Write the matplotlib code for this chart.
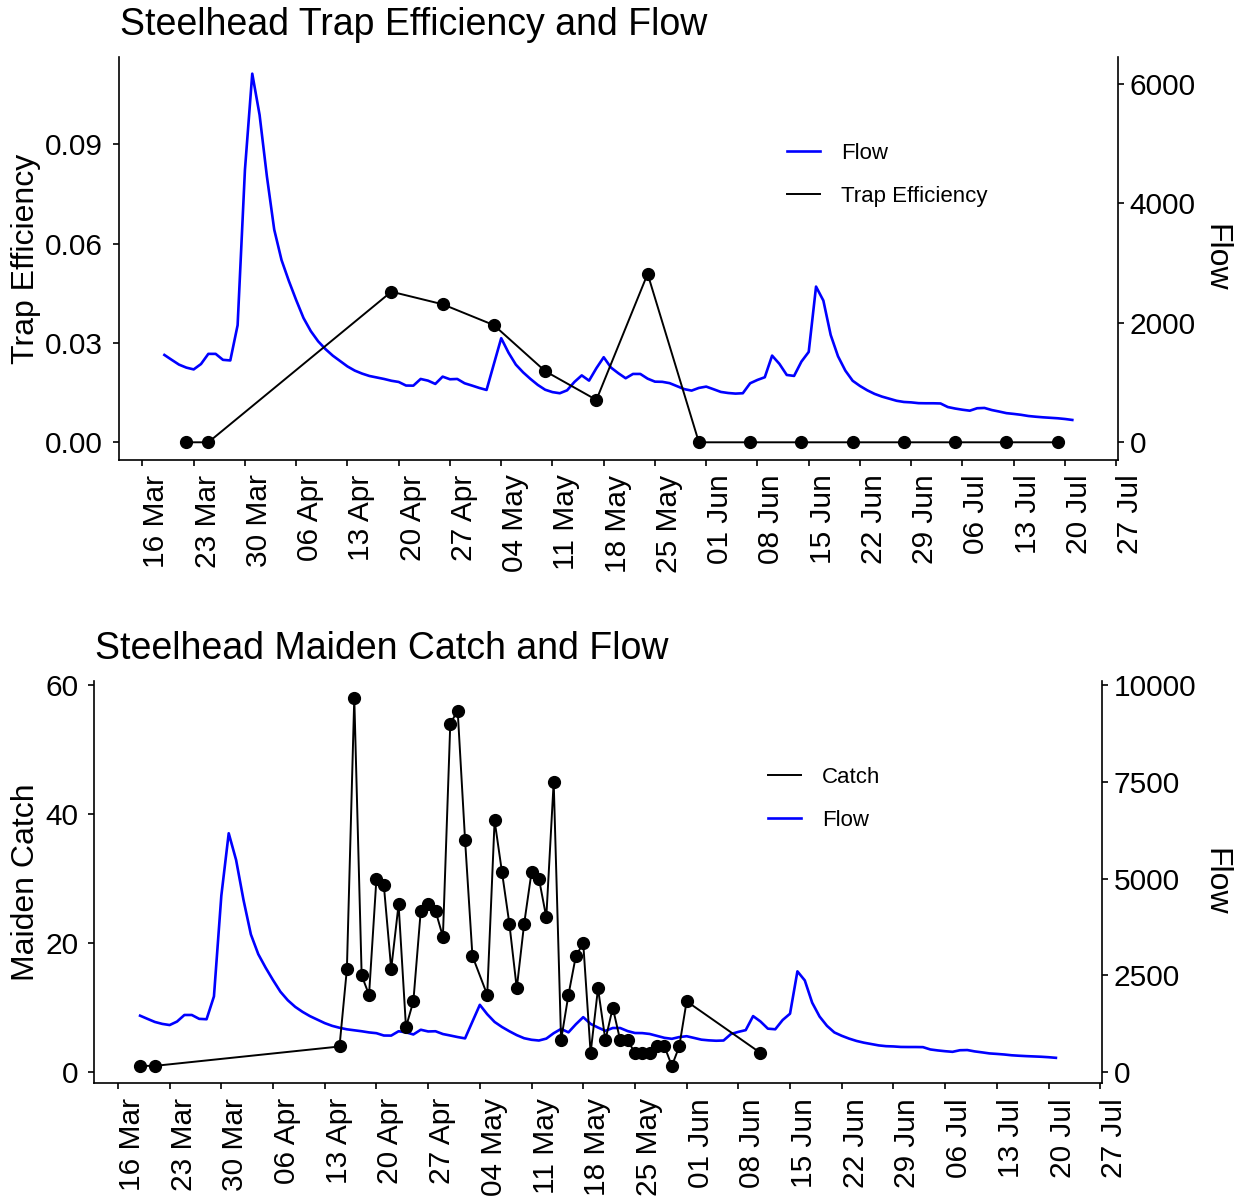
"""Steelhead trap efficiency, maiden catch and river flow in two stacked panels.

Each panel puts the fish series on the left axis and daily flow on a
secondary right axis sharing the same zero.
"""

import matplotlib

matplotlib.use("Agg")
import matplotlib.dates as mdates
import matplotlib.pyplot as plt
import pandas as pd
from matplotlib.lines import Line2D
from matplotlib.ticker import FixedLocator, FormatStrFormatter

plt.rcParams["font.family"] = ["Liberation Sans", "DejaVu Sans"]

# ---------- data ----------

# daily mean flow, 19 Mar - 21 Jul
FLOW_START = "2021-03-19"
FLOW = [
    1462, 1380, 1300, 1250, 1220, 1310, 1480, 1480, 1380, 1370,
    1960, 4560, 6170, 5480, 4450, 3560, 3050, 2700, 2380, 2080,
    1860, 1690, 1560, 1450, 1360, 1270, 1200, 1150, 1110, 1085,
    1060, 1030, 1010, 950, 948, 1060, 1032, 977, 1099, 1055,
    1060, 988, 950, 910, 876, 1310, 1742, 1500, 1300, 1170,
    1060, 960, 880, 840, 821, 870, 1010, 1120, 1032, 1240,
    1424, 1250, 1156, 1072, 1144, 1144, 1065, 1015, 1012, 990,
    940, 890, 865, 910, 932, 888, 843, 825, 815, 821,
    988, 1044, 1089, 1451, 1312, 1127, 1111, 1350, 1513, 2606,
    2372, 1797, 1440, 1200, 1030, 943, 870, 810, 765, 730,
    695, 675, 668, 655, 653, 653, 650, 590, 565, 545,
    529, 570, 575, 540, 515, 488, 475, 460, 440, 428,
    418, 410, 402, 390, 374,
]

TE_DATES = [
    "2021-03-22", "2021-03-25", "2021-04-19", "2021-04-26", "2021-05-03",
    "2021-05-10", "2021-05-17", "2021-05-24", "2021-05-31", "2021-06-07",
    "2021-06-14", "2021-06-21", "2021-06-28", "2021-07-05", "2021-07-12",
    "2021-07-19",
]
TE_VALUES = [
    0.0, 0.0, 0.0455, 0.0417, 0.0354, 0.0215, 0.0128, 0.0509,
    0.0, 0.0, 0.0, 0.0, 0.0, 0.0, 0.0, 0.0,
]

CATCH_DATES = [
    "2021-03-19", "2021-03-21", "2021-04-15", "2021-04-16", "2021-04-17",
    "2021-04-18", "2021-04-19", "2021-04-20", "2021-04-21", "2021-04-22",
    "2021-04-23", "2021-04-24", "2021-04-25", "2021-04-26", "2021-04-27",
    "2021-04-28", "2021-04-29", "2021-04-30", "2021-05-01", "2021-05-02",
    "2021-05-03", "2021-05-05", "2021-05-06", "2021-05-07", "2021-05-08",
    "2021-05-09", "2021-05-10", "2021-05-11", "2021-05-12", "2021-05-13",
    "2021-05-14", "2021-05-15", "2021-05-16", "2021-05-17", "2021-05-18",
    "2021-05-19", "2021-05-20", "2021-05-21", "2021-05-22", "2021-05-23",
    "2021-05-24", "2021-05-25", "2021-05-26", "2021-05-27", "2021-05-28",
    "2021-05-29", "2021-05-30", "2021-05-31", "2021-06-01", "2021-06-11",
]
CATCH_VALUES = [
    1, 1, 4, 16, 58, 15, 12, 30, 29, 16,
    26, 7, 11, 25, 26, 25, 21, 54, 56, 36,
    18, 12, 39, 31, 23, 13, 23, 31, 30, 24,
    45, 5, 12, 18, 20, 3, 13, 5, 10, 5,
    5, 3, 3, 3, 4, 4, 1, 4, 11, 3,
]

WEEK_TICKS = pd.date_range("2021-03-16", "2021-07-27", freq="7D")
TE_TICKS = [0.0, 0.03, 0.06, 0.09]
FLOW_TICKS_TOP = [0, 2000, 4000, 6000]
CATCH_TICKS = [0, 20, 40, 60]
FLOW_TICKS_BOTTOM = [0, 2500, 5000, 7500, 10000]

# ---------- styling ----------

_W, _H, _DPI = 1239, 1196, 100
_BLUE = "#0000FF"
_TICK_SIZE = 21.5
_LABEL_SIZE = 23
_TITLE_SIZE = 27
_LEGEND_SIZE = 16
_FLOW_LW = 1.9
_FISH_LW = 1.4
_X0 = pd.Timestamp("2021-03-16") - pd.Timedelta(days=3.2)
_X1 = pd.Timestamp("2021-03-16") + pd.Timedelta(days=133.2)


def _fx(px: float) -> float:
    return px / _W


def _fy(py: float) -> float:
    return 1 - py / _H


def _style_axes(ax, ax2) -> None:
    ax.spines["top"].set_visible(False)
    ax.spines["right"].set_visible(False)
    for spine in ("top", "left", "bottom"):
        ax2.spines[spine].set_visible(False)
    for a in (ax, ax2):
        for s in a.spines.values():
            s.set_linewidth(1.2)
        a.tick_params(direction="out", length=4.5, width=1.2, labelsize=_TICK_SIZE, colors="black")
    ax.tick_params(axis="y", pad=7)
    ax2.tick_params(axis="y", pad=4)
    ax.set_xlim(_X0, _X1)
    ax.xaxis.set_major_locator(FixedLocator(mdates.date2num(WEEK_TICKS)))
    ax.xaxis.set_major_formatter(mdates.DateFormatter("%d %b"))
    ax.tick_params(axis="x", pad=6)
    for lab in ax.get_xticklabels():
        lab.set_rotation(90)
        lab.set_ha("left")
        lab.set_va("top")
    # keep the fish series above the flow line
    ax.set_zorder(ax2.get_zorder() + 1)
    ax.patch.set_visible(False)


def _legend(fig, handles, labels, x_px, y_px) -> None:
    fig.legend(handles, labels, loc="upper left", bbox_to_anchor=(_fx(x_px), _fy(y_px)),
               frameon=False, fontsize=_LEGEND_SIZE, handlelength=1.5, handletextpad=0.95,
               labelspacing=1.0, borderpad=0, borderaxespad=0)


def main() -> None:
    fig = plt.figure(figsize=(_W / _DPI, _H / _DPI), dpi=_DPI)
    flow_dates = pd.date_range(FLOW_START, periods=len(FLOW), freq="D")

    # top panel: trap efficiency vs flow
    ax = fig.add_axes([_fx(119), _fy(460), _fx(1117.7) - _fx(119), _fy(56.7) - _fy(460)])
    ax2 = ax.twinx()
    ax2.plot(flow_dates, FLOW, color=_BLUE, linewidth=_FLOW_LW)
    ax.plot(pd.to_datetime(TE_DATES), TE_VALUES, color="black", linewidth=_FISH_LW,
            marker="o", markersize=8.5)
    ax.set_ylim(-0.00535, 0.1165)
    ax2.set_ylim(-0.00535 * 55400, 0.1165 * 55400)
    ax.set_yticks(TE_TICKS)
    ax.yaxis.set_major_formatter(FormatStrFormatter("%.2f"))
    ax2.set_yticks(FLOW_TICKS_TOP)
    _style_axes(ax, ax2)
    fig.text(_fx(120), _fy(35), "Steelhead Trap Efficiency and Flow", fontsize=_TITLE_SIZE,
             ha="left", va="baseline")
    fig.text(_fx(26), _fy(259), "Trap Efficiency", fontsize=_LABEL_SIZE, rotation=90,
             ha="center", va="center")
    fig.text(_fx(1215), _fy(258), "Flow", fontsize=_LABEL_SIZE, rotation=270,
             ha="center", va="center")
    _legend(fig,
            [Line2D([], [], color=_BLUE, linewidth=_FLOW_LW),
             Line2D([], [], color="black", linewidth=_FISH_LW)],
            ["Flow", "Trap Efficiency"], 786.7, 143)

    # bottom panel: maiden catch vs flow
    bx = fig.add_axes([_fx(94.3), _fy(1083.3), _fx(1101.7) - _fx(94.3), _fy(681) - _fy(1083.3)])
    bx2 = bx.twinx()
    bx2.plot(flow_dates, FLOW, color=_BLUE, linewidth=_FLOW_LW)
    bx.plot(pd.to_datetime(CATCH_DATES), CATCH_VALUES, color="black", linewidth=_FISH_LW,
            marker="o", markersize=8.5)
    bx.set_ylim(-1.7, 60.6)
    bx2.set_ylim(-1.7 * 10000 / 60, 60.6 * 10000 / 60)
    bx.set_yticks(CATCH_TICKS)
    bx2.set_yticks(FLOW_TICKS_BOTTOM)
    _style_axes(bx, bx2)
    fig.text(_fx(95), _fy(659), "Steelhead Maiden Catch and Flow", fontsize=_TITLE_SIZE,
             ha="left", va="baseline")
    fig.text(_fx(26), _fy(882), "Maiden Catch", fontsize=_LABEL_SIZE, rotation=90,
             ha="center", va="center")
    fig.text(_fx(1215), _fy(882), "Flow", fontsize=_LABEL_SIZE, rotation=270,
             ha="center", va="center")
    _legend(fig,
            [Line2D([], [], color="black", linewidth=_FISH_LW),
             Line2D([], [], color=_BLUE, linewidth=_FLOW_LW)],
            ["Catch", "Flow"], 767.7, 767)

    fig.savefig("out.png", dpi=_DPI)
    plt.close(fig)


if __name__ == "__main__":
    main()
